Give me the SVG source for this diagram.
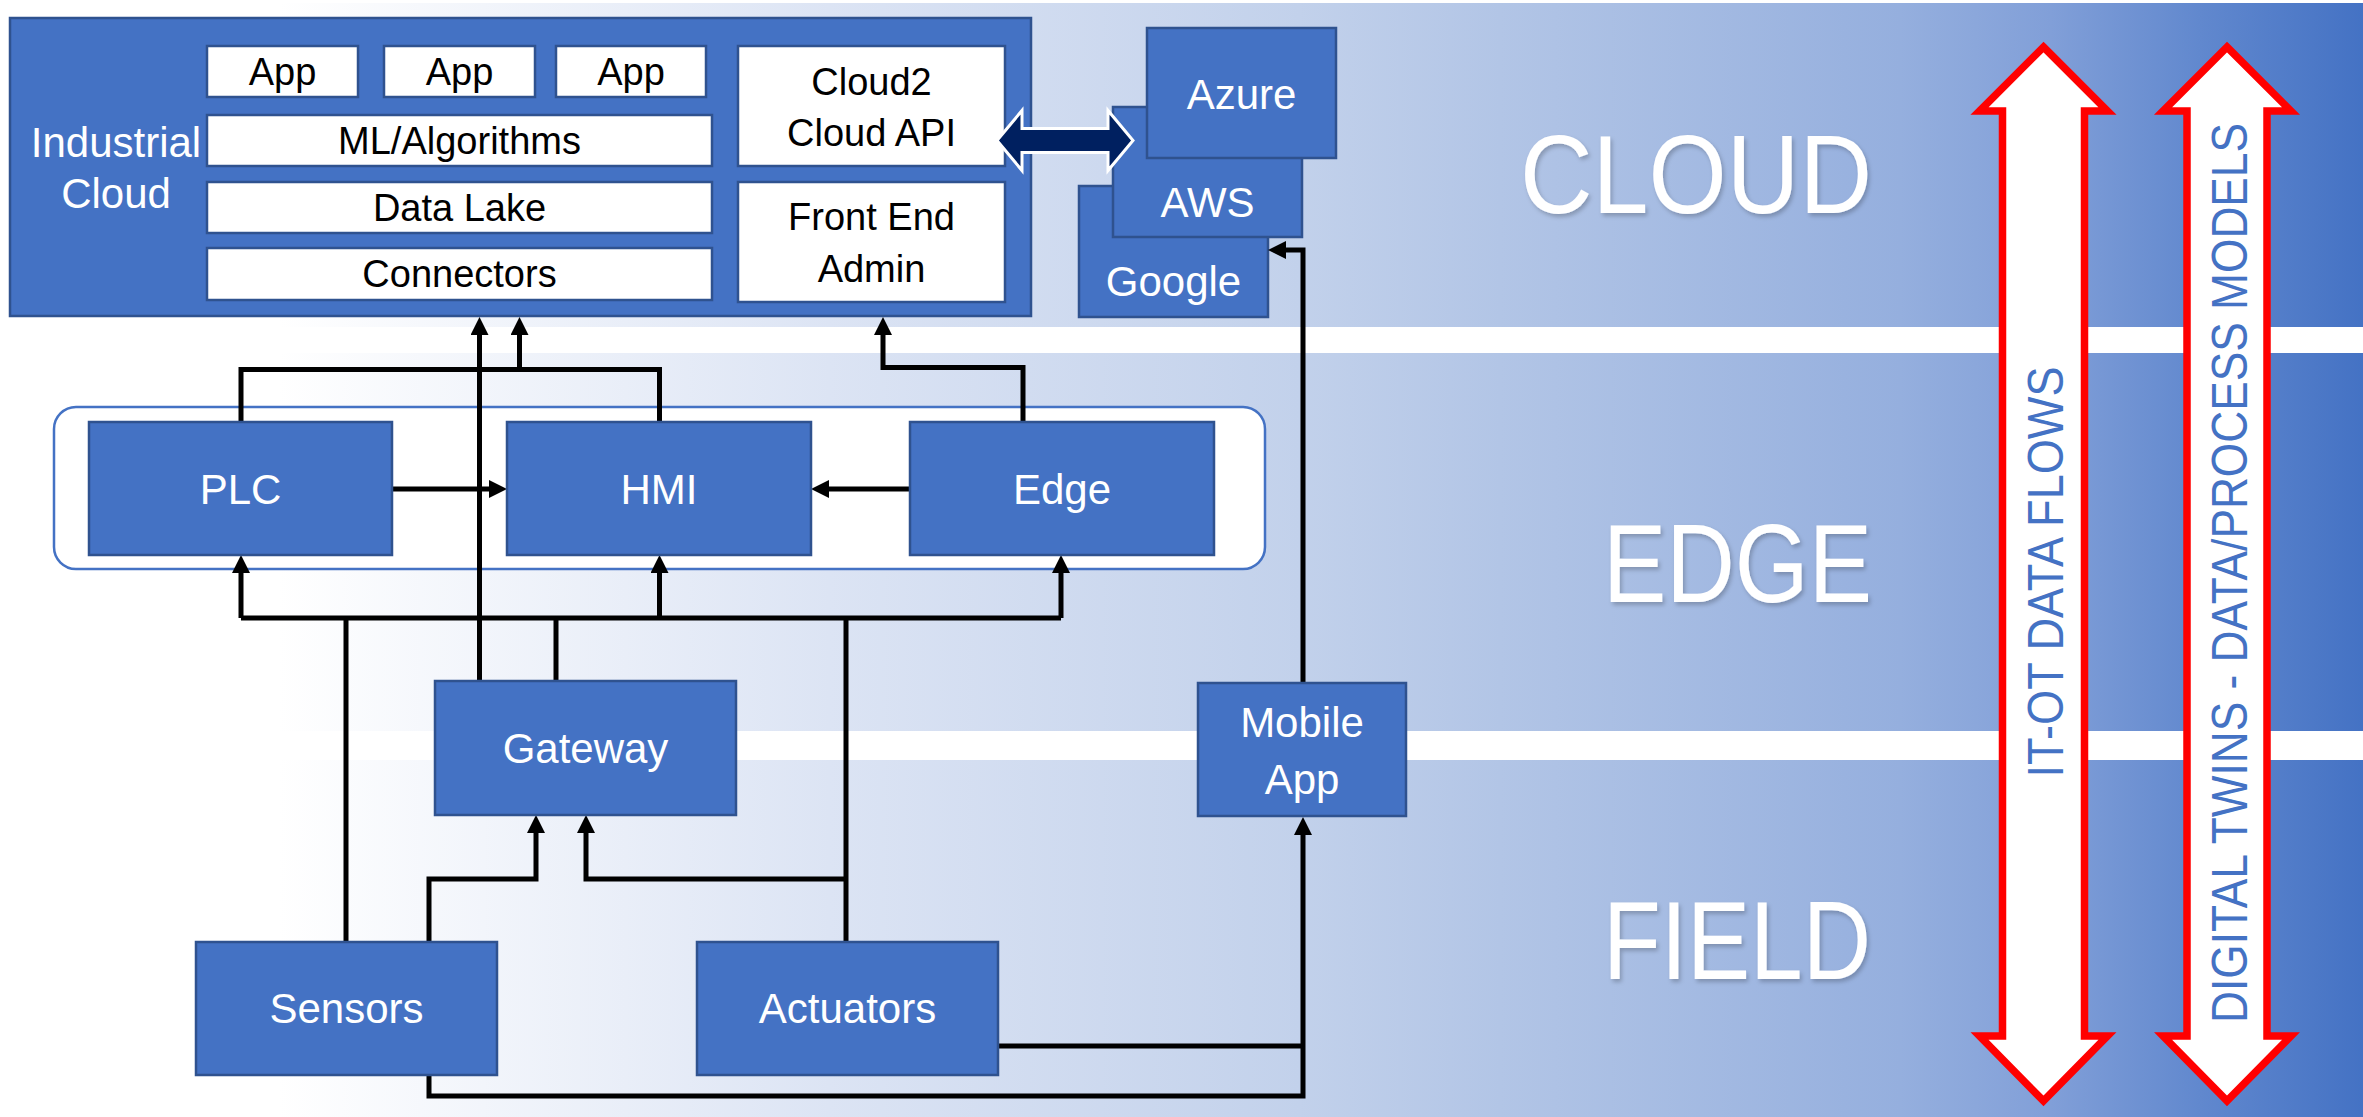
<svg xmlns="http://www.w3.org/2000/svg" width="2363" height="1117" viewBox="0 0 2363 1117">
  <defs>
    <linearGradient id="bandFill" gradientUnits="userSpaceOnUse" x1="0" y1="0" x2="2363" y2="0">
      <stop offset="0" stop-color="#FFFFFF"/>
      <stop offset="0.118" stop-color="#FFFFFF"/>
      <stop offset="0.351" stop-color="#DCE4F4"/>
      <stop offset="0.55" stop-color="#C2D1EB"/>
      <stop offset="0.635" stop-color="#B2C5E6"/>
      <stop offset="0.804" stop-color="#95AFDE"/>
      <stop offset="0.868" stop-color="#819FD8"/>
      <stop offset="0.931" stop-color="#6188CE"/>
      <stop offset="1" stop-color="#4472C4"/>
    </linearGradient>
    <marker id="head" markerUnits="userSpaceOnUse" markerWidth="18" markerHeight="18" viewBox="0 0 18 18" refX="0" refY="9" orient="auto">
      <path d="M0,0 L18,9 L0,18 Z" fill="#000"/>
    </marker>
    <filter id="softShadow" x="-10%" y="-10%" width="130%" height="140%">
      <feDropShadow dx="2" dy="3" stdDeviation="2" flood-color="#000" flood-opacity="0.22"/>
    </filter>
    <style>
      .node { fill: #4472C4; stroke: #2F528F; stroke-width: 2.5; }
      .wbox { fill: #FFFFFF; stroke: #2F528F; stroke-width: 2.5; }
      .wt { fill: #FFFFFF; font-family: "Liberation Sans", Arial, sans-serif; font-size: 42px; text-anchor: middle; }
      .bk { fill: #000000; font-family: "Liberation Sans", Arial, sans-serif; font-size: 38px; text-anchor: middle; }
      .tier { fill: #FFFFFF; font-family: "Liberation Sans", Arial, sans-serif; font-size: 112px; text-anchor: end; filter: url(#softShadow); }
      .flow { fill: #4472C4; font-family: "Liberation Sans", Arial, sans-serif; font-size: 50px; text-anchor: middle; }
      .wire { fill: none; stroke: #000; stroke-width: 5; stroke-linejoin: miter; }
      .arrow { marker-end: url(#head); }
      .big { fill: #FFFFFF; stroke: #FF0000; stroke-width: 7.5; stroke-linejoin: miter; stroke-miterlimit: 10; }
    </style>
  </defs>

  <!-- tier bands -->
  <g id="bands">
    <rect x="0" y="0" width="2363" height="1117" fill="#FFFFFF"/>
    <rect x="0" y="3" width="2363" height="324" fill="url(#bandFill)"/>
    <rect x="0" y="353" width="2363" height="378" fill="url(#bandFill)"/>
    <rect x="0" y="760" width="2363" height="357" fill="url(#bandFill)"/>
    <text class="tier" x="1872" y="213" textLength="352" lengthAdjust="spacingAndGlyphs">CLOUD</text>
    <text class="tier" x="1872" y="602" textLength="269" lengthAdjust="spacingAndGlyphs">EDGE</text>
    <text class="tier" x="1871" y="979" textLength="268" lengthAdjust="spacingAndGlyphs">FIELD</text>
  </g>

  <!-- industrial cloud platform -->
  <g id="industrial-cloud">
    <rect class="node" x="10" y="18" width="1021" height="298"/>
    <text class="wt" x="116" y="157" font-size="39">Industrial</text>
    <text class="wt" x="116" y="208" font-size="39">Cloud</text>
  </g>
  <g id="app-1"><rect class="wbox" x="207" y="46" width="151" height="51"/><text class="bk" x="282.5" y="85">App</text></g>
  <g id="app-2"><rect class="wbox" x="384" y="46" width="151" height="51"/><text class="bk" x="459.5" y="85">App</text></g>
  <g id="app-3"><rect class="wbox" x="556" y="46" width="150" height="51"/><text class="bk" x="631" y="85">App</text></g>
  <g id="ml-algorithms"><rect class="wbox" x="207" y="115" width="505" height="51"/><text class="bk" x="459.5" y="154">ML/Algorithms</text></g>
  <g id="data-lake"><rect class="wbox" x="207" y="182" width="505" height="51"/><text class="bk" x="459.5" y="221">Data Lake</text></g>
  <g id="connectors-layer"><rect class="wbox" x="207" y="248" width="505" height="52"/><text class="bk" x="459.5" y="287">Connectors</text></g>
  <g id="cloud-api"><rect class="wbox" x="738" y="46" width="267" height="120"/><text class="bk" x="871.5" y="95">Cloud2</text><text class="bk" x="871.5" y="146">Cloud API</text></g>
  <g id="front-end"><rect class="wbox" x="738" y="182" width="267" height="120"/><text class="bk" x="871.5" y="230">Front End</text><text class="bk" x="871.5" y="282">Admin</text></g>

  <!-- public cloud providers -->
  <g id="google"><rect class="node" x="1079" y="186" width="189" height="131"/><text class="wt" x="1173.5" y="296">Google</text></g>
  <g id="aws"><rect class="node" x="1113" y="107" width="189" height="130"/><text class="wt" x="1207.5" y="217">AWS</text></g>
  <g id="azure"><rect class="node" x="1147" y="28" width="189" height="130"/><text class="wt" x="1241.5" y="109">Azure</text></g>

  <!-- cloud-to-cloud link -->
  <g id="cloud-link">
    <path d="M997,140.5 L1022,110.5 L1022,128.5 L1108,128.5 L1108,110.5 L1133,140.5 L1108,170.5 L1108,152.5 L1022,152.5 L1022,170.5 Z" fill="#002060" stroke="#FFFFFF" stroke-width="3" stroke-linejoin="miter"/>
  </g>

  <!-- edge tier enclosure -->
  <g id="edge-group">
    <rect x="54" y="407" width="1211" height="162" rx="22" ry="22" fill="#FFFFFF" stroke="#4472C4" stroke-width="2.5"/>
  </g>

  <!-- wiring between nodes -->
  <g id="connectors">
    <path class="wire arrow" d="M479.5,681 V335"/>
    <path class="wire" d="M241,422 V369.5 H659.5 V422"/>
    <path class="wire arrow" d="M519.5,369.5 V335"/>
    <path class="wire arrow" d="M1023,422 V367.5 H883 V335"/>
    <path class="wire arrow" d="M392,489 H489"/>
    <path class="wire arrow" d="M910,489 H829"/>
    <path class="wire" d="M241,618 H1061"/>
    <path class="wire arrow" d="M241,618 V573"/>
    <path class="wire arrow" d="M659.5,618 V573"/>
    <path class="wire arrow" d="M1061,618 V573"/>
    <path class="wire" d="M346,942 V618"/>
    <path class="wire" d="M556,681 V618"/>
    <path class="wire" d="M846,942 V618"/>
    <path class="wire arrow" d="M429,942 V879 H536 V833"/>
    <path class="wire arrow" d="M846,879 H586 V833"/>
    <path class="wire arrow" d="M429,1075 V1096 H1303 V835"/>
    <path class="wire" d="M998,1046 H1303"/>
    <path class="wire arrow" d="M1303,683 V250 H1286"/>
  </g>

  <!-- edge devices -->
  <g id="plc"><rect class="node" x="89" y="422" width="303" height="133"/><text class="wt" x="240.5" y="504">PLC</text></g>
  <g id="hmi"><rect class="node" x="507" y="422" width="304" height="133"/><text class="wt" x="659" y="504">HMI</text></g>
  <g id="edge"><rect class="node" x="910" y="422" width="304" height="133"/><text class="wt" x="1062" y="504">Edge</text></g>

  <!-- gateway and mobile -->
  <g id="gateway"><rect class="node" x="435" y="681" width="301" height="134"/><text class="wt" x="585.5" y="763">Gateway</text></g>
  <g id="mobile-app"><rect class="node" x="1198" y="683" width="208" height="133"/><text class="wt" x="1302" y="737">Mobile</text><text class="wt" x="1302" y="794">App</text></g>

  <!-- field devices -->
  <g id="sensors"><rect class="node" x="196" y="942" width="301" height="133"/><text class="wt" x="346.5" y="1023">Sensors</text></g>
  <g id="actuators"><rect class="node" x="697" y="942" width="301" height="133"/><text class="wt" x="847.5" y="1023">Actuators</text></g>

  <!-- two-way flow arrows -->
  <g id="it-ot-flows">
    <path class="big" d="M2043.5,47 L2107.5,111 L2084.5,111 L2084.5,1036 L2107.5,1036 L2043.5,1101 L1979.5,1036 L2002.5,1036 L2002.5,111 L1979.5,111 Z"/>
    <text class="flow" transform="translate(2063,572) rotate(-90)" textLength="411" lengthAdjust="spacingAndGlyphs">IT-OT DATA FLOWS</text>
  </g>
  <g id="digital-twins">
    <path class="big" d="M2227,47 L2291,111 L2267,111 L2267,1036 L2291,1036 L2227,1101 L2163,1036 L2187,1036 L2187,111 L2163,111 Z"/>
    <text class="flow" transform="translate(2247,573) rotate(-90)" textLength="900" lengthAdjust="spacingAndGlyphs">DIGITAL TWINS - DATA/PROCESS MODELS</text>
  </g>
</svg>
